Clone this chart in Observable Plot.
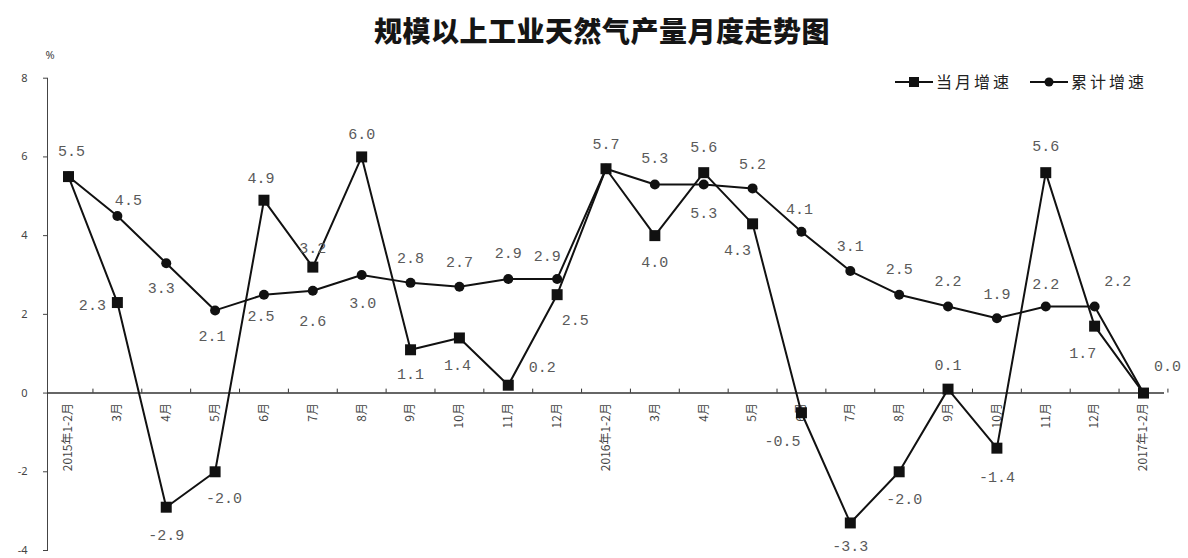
<!DOCTYPE html>
<html>
<head>
<meta charset="utf-8">
<script src="https://cdn.jsdelivr.net/npm/d3@7"></script>
<script src="https://cdn.jsdelivr.net/npm/@observablehq/plot@0.6"></script>
<style>
  body { margin: 0; background: #fff; }
  #wrap { position: relative; width: 1188px; height: 558px; overflow: hidden; background: #fff; }
  #title {
    position: absolute; left: 8px; top: 10px; width: 1188px; line-height: 40px;
    text-align: center; font-family: "Noto Sans CJK SC", sans-serif; font-weight: 900;
    font-size: 28px; color: #151515; letter-spacing: 0.5px;
  }
  #chart { position: absolute; left: 0; top: 45px; }
  #legend { position: absolute; left: 880px; top: 70px; }
</style>
</head>
<body>
<div id="wrap">
  <div id="title">规模以上工业天然气产量月度走势图</div>
  <div id="chart"></div>
  <svg id="legend" width="290" height="24"></svg>
</div>
<script>
// Month categories (Jan–Feb are reported together)
const months = ["2015年1-2月","3月","4月","5月","6月","7月","8月","9月","10月","11月","12月",
                "2016年1-2月","3月","4月","5月","6月","7月","8月","9月","10月","11月","12月",
                "2017年1-2月"];
// Year-on-year growth of the month (%)
const monthlyGrowth = [5.5, 2.3, -2.9, -2.0, 4.9, 3.2, 6.0, 1.1, 1.4, 0.2, 2.5,
                       5.7, 4.0, 5.6, 4.3, -0.5, -3.3, -2.0, 0.1, -1.4, 5.6, 1.7,
                       0.0];
// Cumulative year-to-date growth (%)
const cumulativeGrowth = [5.5, 4.5, 3.3, 2.1, 2.5, 2.6, 3.0, 2.8, 2.7, 2.9, 2.9,
                          5.7, 5.3, 5.3, 5.2, 4.1, 3.1, 2.5, 2.2, 1.9, 2.2, 2.2,
                          0.0];
const yTicks = [-4, -2, 0, 2, 4, 6, 8];
const seriesNames = ["当月增速", "累计增速"];

// Value-label placement [dx, dy] in pixels; null = label shared with the other series
const monthlyLabelOffsets = [
  [3,-25], [-25,3], [0,28], [9,26], [-3,-22], [0,-19], [0,-23], [0,24], [-2,27], [34,-18], [18,26],
  [0,-25], [0,27], [0,-25], [-15,26], [-19,28], [0,23], [5,27], [0,-24], [0,29], [0,-26], [-12,27],
  [24,-27]
];
const cumulativeLabelOffsets = [
  null, [11,-16], [-5,25], [-3,26], [-3,22], [0,30], [1,28], [0,-25], [0,-25], [0,-26], [-10,-23],
  null, [0,-26], [0,29], [0,-24], [-2,-23], [0,-25], [0,-25], [0,-25], [0,-24], [0,-22], [23,-25],
  null
];

const W = 1188, H = 513;
const mLeft = 47, mRight = 24, mTop = 32.7, mBottom = 8;
const pad = 0.43;
const idx = d3.range(months.length);
const step = (W - mLeft - mRight) / (months.length - 1 + 2 * pad);

const monthlyRows = idx.map(i => ({i, v: monthlyGrowth[i]}));
const cumulativeRows = idx.map(i => ({i, v: cumulativeGrowth[i]}));
const fmt = v => v.toFixed(1);

const ink = "#111";
const labelStyle = {fontFamily: "Liberation Mono, monospace", fontSize: 15, fill: "#5a5a5a"};

const labelMarks = [];
for (const [rows, offsets] of [[monthlyRows, monthlyLabelOffsets], [cumulativeRows, cumulativeLabelOffsets]]) {
  rows.forEach((d, k) => {
    const off = offsets[k];
    if (!off) return;
    labelMarks.push(Plot.text([d], {x: "i", y: "v", text: r => fmt(r.v), dx: off[0], dy: off[1], ...labelStyle}));
  });
}

const chart = Plot.plot({
  width: W, height: H,
  marginLeft: mLeft, marginRight: mRight, marginTop: mTop, marginBottom: mBottom,
  style: {background: "#fff", color: "#444"},
  x: {type: "point", domain: idx, padding: pad, round: false, axis: null},
  y: {domain: [-4, 8], ticks: yTicks, tickSize: 4, tickPadding: 16, line: true,
      label: null, tickFormat: d => String(d)},
  marks: [
    Plot.ruleY([0], {stroke: "#333", strokeWidth: 1.5}),
    // small ticks between months along the zero line
    Plot.ruleX(idx, {x: d => d, y1: 0, y2: 0.1, dx: step / 2, stroke: "#333"}),
    // month labels, rotated, hanging below the zero line
    Plot.text(idx, {x: d => d, y: 0, text: d => months[d], rotate: -90, textAnchor: "end",
      dy: 10, fontFamily: "Noto Sans CJK SC", fontSize: 12, fill: "#444",
      style: {letterSpacing: "1px"}}),
    Plot.text(["%"], {frameAnchor: "top-left", text: d => d, dy: -27, dx: -2, fontSize: 11, fill: "#444"}),
    Plot.line(cumulativeRows, {x: "i", y: "v", stroke: ink, strokeWidth: 2}),
    Plot.line(monthlyRows, {x: "i", y: "v", stroke: ink, strokeWidth: 2}),
    Plot.dot(cumulativeRows, {x: "i", y: "v", r: 5, fill: ink, stroke: "none"}),
    Plot.dot(monthlyRows, {x: "i", y: "v", r: 6.2, symbol: "square", fill: ink, stroke: "none"}),
    ...labelMarks
  ]
});
chart.querySelectorAll("g[aria-label='y-axis tick label'] text, g[aria-label='y-axis'] text").forEach(t => t.setAttribute("font-size", "11"));
document.getElementById("chart").appendChild(chart);

// Legend: line + marker + series name
const lg = d3.select("#legend");
const items = [
  {x: 15, name: seriesNames[0], marker: "square"},
  {x: 150, name: seriesNames[1], marker: "circle"}
];
for (const it of items) {
  lg.append("line").attr("x1", it.x).attr("x2", it.x + 38).attr("y1", 12).attr("y2", 12)
    .attr("stroke", ink).attr("stroke-width", 2);
  if (it.marker === "square") {
    lg.append("rect").attr("x", it.x + 19 - 5).attr("y", 7).attr("width", 10).attr("height", 10).attr("fill", ink);
  } else {
    lg.append("circle").attr("cx", it.x + 19).attr("cy", 12).attr("r", 4.5).attr("fill", ink);
  }
  lg.append("text").attr("x", it.x + 41).attr("y", 12).attr("dy", "0.36em")
    .attr("font-family", "Noto Sans CJK SC").attr("font-size", 16).attr("fill", "#222")
    .style("letter-spacing", "3px").text(it.name);
}
</script>
</body>
</html>
